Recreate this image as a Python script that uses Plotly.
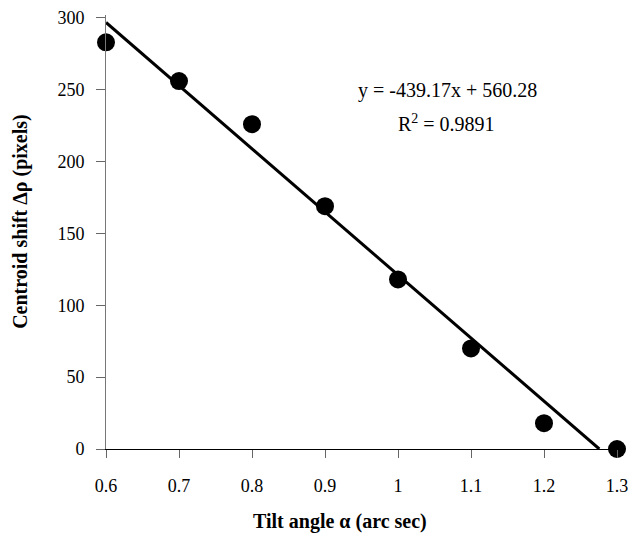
import plotly.graph_objects as go

# Data
tilt_angle = [0.6, 0.7, 0.8, 0.9, 1.0, 1.1, 1.2, 1.3]
centroid_shift = [283, 256, 226, 169, 118, 70, 18, 0]

# Excel-style linear trendline shown in the chart
slope = -439.17
intercept = 560.28
r_squared = 0.9891

x_ticks = [0.6, 0.7, 0.8, 0.9, 1.0, 1.1, 1.2, 1.3]
x_ticktext = ["0.6", "0.7", "0.8", "0.9", "1", "1.1", "1.2", "1.3"]
y_ticks = [0, 50, 100, 150, 200, 250, 300]

x_start = tilt_angle[0]
x_end = -intercept / slope
trend_x = [x_start, x_end]
trend_y = [slope * v + intercept for v in trend_x]

FONT = "Liberation Serif"
L, R, T, B = 106, 12, 8, 94
PW, PH = 636 - L - R, 543 - T - B

fig = go.Figure()
fig.add_trace(go.Scatter(
    x=trend_x, y=trend_y, mode="lines",
    line=dict(color="black", width=3),
    hoverinfo="skip", showlegend=False, cliponaxis=False,
))
fig.add_trace(go.Scatter(
    x=tilt_angle, y=centroid_shift, mode="markers",
    marker=dict(color="black", size=18),
    showlegend=False, cliponaxis=False,
))

fig.update_layout(
    width=636, height=543,
    margin=dict(l=L, r=R, t=T, b=B),
    paper_bgcolor="white", plot_bgcolor="white",
    font=dict(family=FONT, size=18, color="black"),
    xaxis=dict(
        range=[0.6, 1.3], tickvals=x_ticks, ticktext=x_ticktext,
        showgrid=False, zeroline=False,
        showline=True, linecolor="black", linewidth=1,
        ticks="outside", ticklen=8, tickcolor="#666", tickwidth=1,
        ticklabelstandoff=12, ticklabeloverflow="allow",
    ),
    yaxis=dict(
        range=[0, 302], tickvals=y_ticks,
        showgrid=False, zeroline=False,
        showline=True, linecolor="#777", linewidth=1,
        ticks="outside", ticklen=9, tickcolor="#666", tickwidth=1,
        ticklabelstandoff=8, ticklabeloverflow="allow",
    ),
    annotations=[
        dict(text="<b>Tilt angle α (arc sec)</b>", xref="paper", yref="paper",
             x=(343 - L) / PW, y=-(523 - 449) / PH, showarrow=False,
             xanchor="center", yanchor="middle", font=dict(size=20)),
        dict(text="<b>Centroid shift Δρ (pixels)</b>", xref="paper", yref="paper",
             x=-(L - 20) / PW, y=(449 - 218) / PH, showarrow=False, textangle=-90,
             xanchor="center", yanchor="middle", font=dict(size=20)),
        dict(text=f"y = {slope:.2f}x + {intercept:.2f}", xref="paper", yref="paper",
             x=(452 - L) / PW, y=(449 - 85) / PH, showarrow=False,
             xanchor="center", yanchor="middle", font=dict(size=20)),
        dict(text=f"R<sup>2</sup> = {r_squared:.4f}", xref="paper", yref="paper",
             x=(451 - L) / PW, y=(449 - 118) / PH, showarrow=False,
             xanchor="center", yanchor="middle", font=dict(size=20)),
    ],
)

fig.write_html("out.html")
